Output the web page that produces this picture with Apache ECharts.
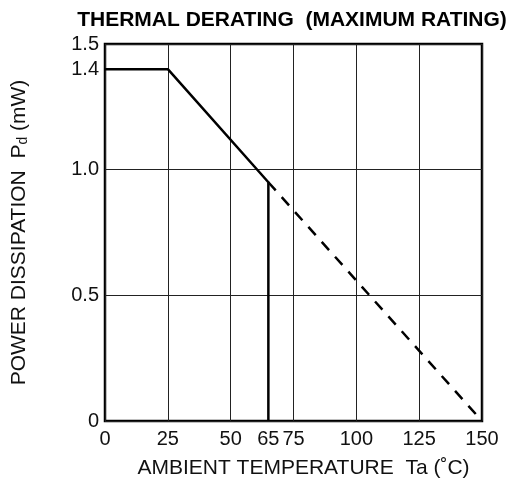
<!DOCTYPE html>
<html lang="en">
<head>
	<meta charset="UTF-8">
	<title>Thermal derating</title>
	<script src="https://cdn.jsdelivr.net/npm/echarts@6/dist/echarts.min.js"></script>
	<style>
		html, body { margin: 0; padding: 0; background: #fff; }
		#main { width: 510px; height: 492px; }
	</style>
</head>
<body>
	<div id="main"></div>
	<script type="text/javascript">
		// values
		var xTicks = [0, 25, 50, 65, 75, 100, 125, 150];
		var yTicks = [0, 0.5, 1.0, 1.4, 1.5];
		var ratedTemp = [0, 25, 65, 65];
		var ratedPower = [1.4, 1.4, 0.95, 0];
		var extTemp = [65, 150];
		var extPower = [0.95, 0];

		function pairs(xs, ys) {
			return xs.map(function (x, i) { return [x, ys[i]]; });
		}

		var font = '"Liberation Sans", Arial, sans-serif';
		var myChart = echarts.init(document.getElementById('main'));

		var option = {
			backgroundColor: '#fff',
			animation: false,
			title: {
				text: 'THERMAL DERATING  (MAXIMUM RATING)',
				left: 287,
				top: 5,
				textAlign: 'center',
				textStyle: { fontFamily: font, fontSize: 21, fontWeight: 'bold', color: '#000' }
			},
			grid: {
				left: 105, right: 28, top: 44, bottom: 71,
				show: true, borderColor: '#000', borderWidth: 2.5
			},
			xAxis: {
				type: 'value', min: 0, max: 150, interval: 25,
				name: 'AMBIENT TEMPERATURE  Ta (˚C)',
				nameLocation: 'middle', nameGap: 37,
				nameTextStyle: { fontFamily: font, fontSize: 21, color: '#111', padding: [0, 0, 0, 20] },
				axisLine: { show: false },
				axisTick: { show: false },
				splitLine: { show: true, lineStyle: { color: '#222', width: 1 } },
				axisLabel: {
					customValues: xTicks,
					margin: 8,
					fontFamily: font, fontSize: 20, color: '#111'
				}
			},
			yAxis: {
				type: 'value', min: 0, max: 1.5, interval: 0.5,
				name: 'POWER DISSIPATION  P{sub|d} (mW)',
				nameLocation: 'middle', nameGap: 75, nameRotate: 90,
				nameTextStyle: {
					fontFamily: font, fontSize: 21, color: '#111',
					rich: { sub: { fontFamily: font, fontSize: 14, color: '#111', verticalAlign: 'bottom', padding: [7, 0, 0, 0] } }
				},
				axisLine: { show: false },
				axisTick: { show: false },
				splitLine: { show: true, lineStyle: { color: '#222', width: 1 } },
				axisLabel: {
					customValues: yTicks,
					margin: 6,
					fontFamily: font, fontSize: 20, color: '#111',
					formatter: function (v) { return v === 0 ? '0' : v.toFixed(1); }
				}
			},
			series: [
				{
					type: 'line', data: pairs(ratedTemp, ratedPower),
					symbol: 'none',
					lineStyle: { color: '#000', width: 2.5 }
				},
				{
					type: 'line', data: pairs(extTemp, extPower),
					symbol: 'none',
					lineStyle: { color: '#000', width: 2.5, type: [11, 9] }
				}
			]
		};

		myChart.setOption(option);
	</script>
</body>
</html>
